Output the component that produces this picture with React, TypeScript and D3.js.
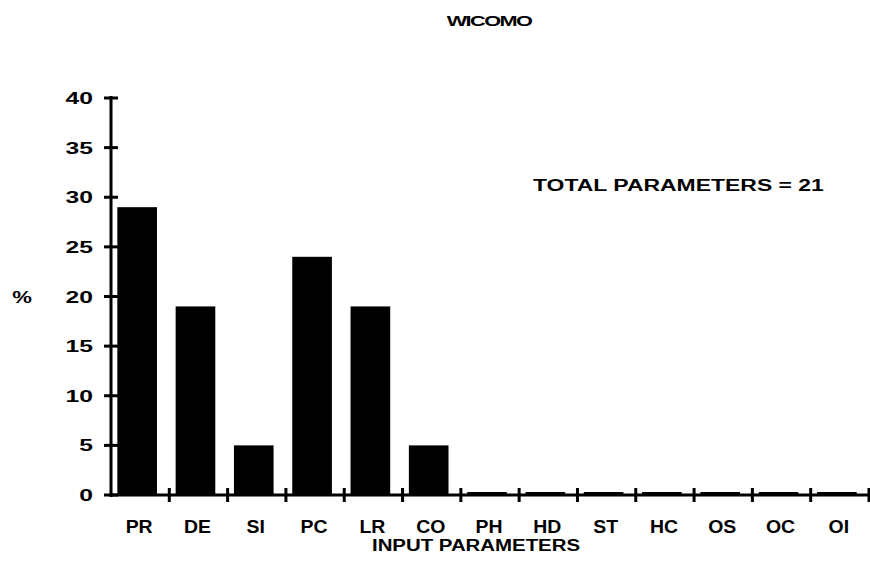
import React from "react";
import * as d3 from "d3";

const categories = ["PR", "DE", "SI", "PC", "LR", "CO", "PH", "HD", "ST", "HC", "OS", "OC", "OI"];
const percents = [29, 19, 5, 24, 19, 5, 0.3, 0.3, 0.3, 0.3, 0.3, 0.3, 0.3];
const yTicks = [0, 5, 10, 15, 20, 25, 30, 35, 40];
const title = "WICOMO";
const note = "TOTAL PARAMETERS = 21";
const xTitle = "INPUT PARAMETERS";
const yTitle = "%";

const W = 870, H = 570;
const x0 = 111, x1 = 869, yTop = 98, yBot = 495;
const font = "'Liberation Sans', Arial, sans-serif";

function Label(props: { x: number; y: number; sx: number; size: number; anchor?: string; dy?: string; ls?: number; children: React.ReactNode }) {
  const { x, y, sx, size, anchor = "start", dy, ls = 0, children } = props;
  return (
    <g transform={`translate(${x},${y}) scale(${sx},1)`}>
      <text x={0} y={0} dy={dy} textAnchor={anchor} fontFamily={font} fontWeight="bold" fontSize={size} letterSpacing={ls}>{children}</text>
    </g>
  );
}

export default function App() {
  const x = d3.scaleBand<string>().domain(categories).range([x0, x1]).paddingInner(0.32).paddingOuter(0.16);
  const y = d3.scaleLinear().domain([0, 40]).range([yBot, yTop]);
  const boundaries = d3.range(categories.length + 1).map((i) => x0 + i * ((x1 - x0) / categories.length));
  return (
    <svg width={W} height={H} style={{ position: "absolute", left: 0, top: 0, background: "#fff" }}>
      <rect width={W} height={H} fill="#fff" />
      <Label x={489} y={26} sx={1.55} size={14} anchor="middle" ls={-1}>{title}</Label>
      <Label x={533} y={191} sx={1.35} size={17}>{note}</Label>
      <Label x={22} y={303} sx={1.3} size={17} anchor="middle">{yTitle}</Label>
      {categories.map((c, i) => (
        <rect key={c} x={x(c)! - 3} y={y(percents[i])} width={x.bandwidth()} height={yBot - y(percents[i])} fill="#000" />
      ))}
      <line x1={x0} x2={x0} y1={yTop - 2} y2={yBot + 2} stroke="#000" strokeWidth={3} />
      <line x1={x0} x2={x1} y1={yBot} y2={yBot} stroke="#000" strokeWidth={3} />
      {yTicks.map((t) => (
        <g key={t}>
          <line x1={x0 - 7} x2={x0 + 7} y1={y(t)} y2={y(t)} stroke="#000" strokeWidth={3} />
          <Label x={93} y={y(t)} dy="0.36em" sx={1.45} size={17} anchor="end">{t}</Label>
        </g>
      ))}
      {boundaries.slice(1).map((b, i) => (
        <line key={i} x1={b} x2={b} y1={yBot - 7} y2={yBot + 7} stroke="#000" strokeWidth={3} />
      ))}
      {categories.map((c) => (
        <Label key={c} x={x(c)! + x.bandwidth() / 2 - 1} y={533} sx={1.08} size={18} anchor="middle">{c}</Label>
      ))}
      <Label x={476} y={551} sx={1.2} size={17} anchor="middle">{xTitle}</Label>
    </svg>
  );
}
